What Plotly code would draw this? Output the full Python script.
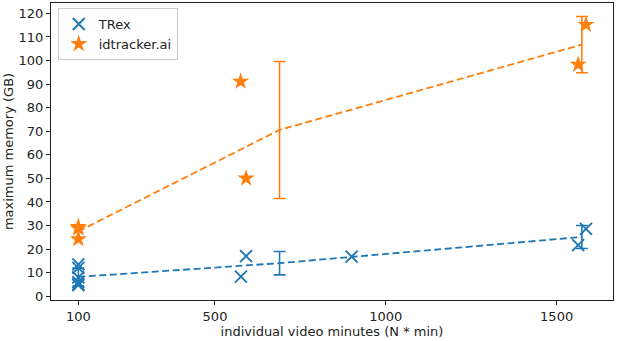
import numpy as np
import plotly.graph_objects as go

# ---- data ----
trex_x = [100, 100, 100, 100, 100, 100, 576, 591, 900, 1563, 1586]
trex_y = [13.5, 12.0, 8.0, 6.0, 5.0, 4.7, 8.3, 17.0, 16.8, 21.7, 28.6]
trex_group = [0, 0, 0, 0, 0, 0, 1, 1, 1, 2, 2]

idt_x = [100, 100, 100, 575, 591, 1563, 1586]
idt_y = [29.5, 28.8, 24.3, 91.1, 50.0, 98.3, 115.2]
idt_group = [0, 0, 0, 1, 1, 2, 2]

group_x = [100, 689, 1574]

x_ticks = [100, 500, 1000, 1500]
y_ticks = list(range(0, 121, 10))

BLUE = "#1f77b4"
ORANGE = "#ff7f0e"


def group_stats(ys, groups):
    ys = np.array(ys)
    groups = np.array(groups)
    means, stds = [], []
    for g in range(len(group_x)):
        v = ys[groups == g]
        means.append(v.mean())
        stds.append(v.std(ddof=1) if len(v) > 1 else 0.0)
    return means, stds


trex_mean, trex_std = group_stats(trex_y, trex_group)
idt_mean, idt_std = group_stats(idt_y, idt_group)

FONT = dict(family="DejaVu Sans", size=13, color="#222")

fig = go.Figure()

# mean lines with error bars
fig.add_trace(go.Scatter(
    x=group_x, y=trex_mean, mode="lines", showlegend=False,
    line=dict(color=BLUE, width=1.8, dash="7px,3.5px"),
    error_y=dict(type="data", array=trex_std, visible=True, color=BLUE,
                 thickness=1.6, width=6),
))
fig.add_trace(go.Scatter(
    x=group_x, y=idt_mean, mode="lines", showlegend=False,
    line=dict(color=ORANGE, width=1.8, dash="7px,3.5px"),
    error_y=dict(type="data", array=idt_std, visible=True, color=ORANGE,
                 thickness=1.6, width=6),
))

# scatter points
fig.add_trace(go.Scatter(
    x=trex_x, y=trex_y, mode="markers", name="TRex",
    marker=dict(symbol="x-thin", size=12, color=BLUE,
                line=dict(color=BLUE, width=1.9)),
))
fig.add_trace(go.Scatter(
    x=idt_x, y=idt_y, mode="markers", name="idtracker.ai",
    marker=dict(symbol="star", size=13, color=ORANGE,
                line=dict(width=0)),
))

fig.update_layout(
    width=617, height=341,
    margin=dict(l=51, r=4, t=3, b=41, autoexpand=False),
    paper_bgcolor="white", plot_bgcolor="white",
    font=FONT,
    legend=dict(x=0.012, y=0.983, xanchor="left", yanchor="top",
                bgcolor="rgba(255,255,255,0.9)", bordercolor="#cccccc",
                borderwidth=1, font=FONT, tracegroupgap=0,
                itemwidth=30),
)
fig.update_xaxes(
    range=[20, 1665], tickvals=x_ticks, ticktext=[str(v) for v in x_ticks],
    showgrid=False, zeroline=False, showline=True, mirror=True,
    linecolor="#222", linewidth=1, ticks="outside", ticklen=4,
    tickcolor="#222", tickfont=FONT, automargin=False,
    title=dict(text="individual video minutes (N * min)", font=FONT,
               standoff=3),
)
fig.update_yaxes(
    range=[-1.6, 124.4], tickvals=y_ticks, ticktext=[str(v) for v in y_ticks],
    showgrid=False, zeroline=False, showline=True, mirror=True,
    linecolor="#222", linewidth=1, ticks="outside", ticklen=4,
    tickcolor="#222", tickfont=FONT, automargin=False,
    title=dict(text="maximum memory (GB)", font=FONT, standoff=2),
)

fig.write_html("out.html",
               config={"displayModeBar": False},
               post_script="document.body.style.margin='0';document.body.style.padding='0';")
